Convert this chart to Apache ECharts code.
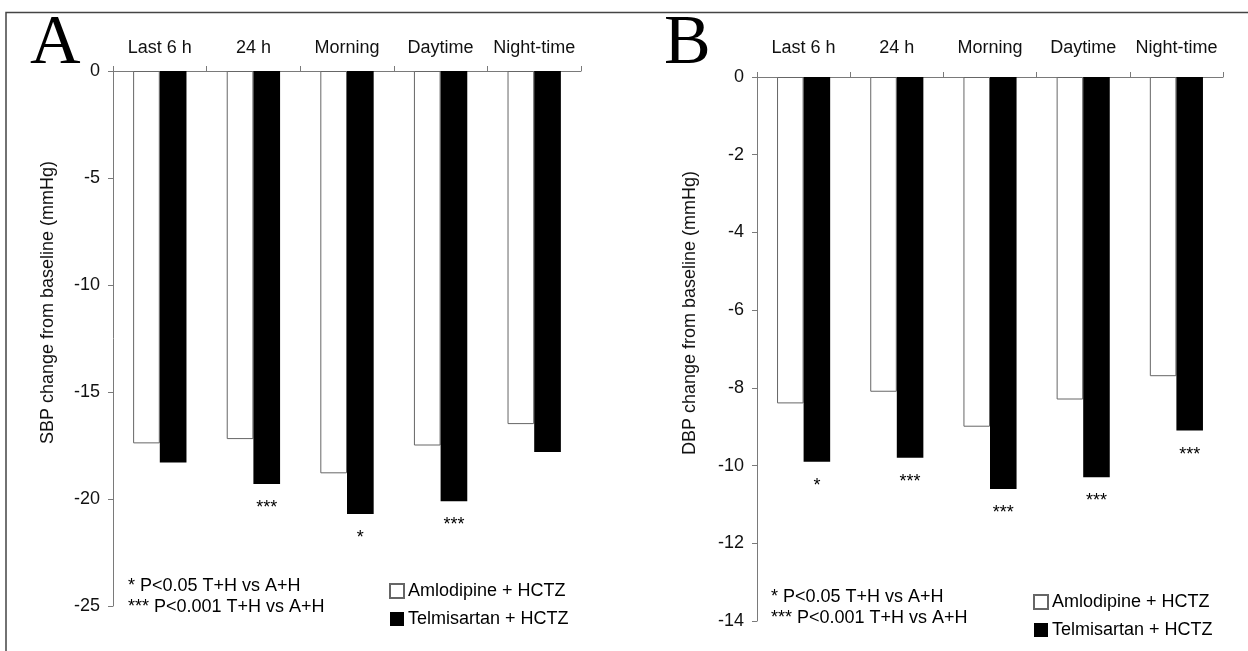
<!DOCTYPE html>
<html>
<head>
<meta charset="utf-8">
<script src="https://cdn.jsdelivr.net/npm/echarts@6/dist/echarts.min.js"></script>
<style>
  html, body { margin: 0; padding: 0; background: #fff; }
  #main { width: 1248px; height: 651px; }
</style>
</head>
<body>
<div id="main"></div>
<script>
// data
var categories = ['Last 6 h', '24 h', 'Morning', 'Daytime', 'Night-time'];
var sbpAmlo = [-17.4, -17.2, -18.8, -17.5, -16.5];
var sbpTelmi = [-18.3, -19.3, -20.7, -20.1, -17.8];
var sbpSig = ['', '***', '*', '***', ''];
var dbpAmlo = [-8.4, -8.1, -9.0, -8.3, -7.7];
var dbpTelmi = [-9.9, -9.8, -10.6, -10.3, -9.1];
var dbpSig = ['*', '***', '***', '***', '***'];
var seriesNames = ['Amlodipine + HCTZ', 'Telmisartan + HCTZ'];
var notes = ['* P<0.05 T+H vs A+H', '*** P<0.001 T+H vs A+H'];

var font = 'Liberation Sans, Arial, sans-serif';
var axisGray = '#7a7a7a';

function xAxisFor(grid, margin) {
  return {
    type: 'category',
    gridIndex: grid,
    position: 'top',
    data: categories,
    axisLine: { lineStyle: { color: axisGray, width: 1 } },
    axisTick: { show: true, interval: 0, length: 5, lineStyle: { color: axisGray } },
    axisLabel: { interval: 0, hideOverlap: false, margin: margin, color: '#111', fontSize: 18, fontFamily: font }
  };
}

function yAxisFor(grid, min, interval, name, gap) {
  return {
    type: 'value',
    gridIndex: grid,
    min: min,
    max: 0,
    interval: interval,
    name: name,
    nameLocation: 'middle',
    nameGap: gap,
    nameTextStyle: { color: '#111', fontSize: 18, fontFamily: font, padding: [0, 0, 0, 72] },
    axisLine: { show: true, lineStyle: { color: axisGray, width: 1 } },
    axisTick: { show: true, length: 5, lineStyle: { color: axisGray } },
    axisLabel: { margin: 13, color: '#111', fontSize: 18, fontFamily: font },
    splitLine: { show: false }
  };
}

function barPair(grid, white, black, sig) {
  return [{
    name: seriesNames[0],
    type: 'bar',
    xAxisIndex: grid,
    yAxisIndex: grid,
    data: white,
    barGap: '0%',
    barCategoryGap: '43%',
    itemStyle: { color: '#fff', borderColor: '#666', borderWidth: 1 }
  }, {
    name: seriesNames[1],
    type: 'bar',
    xAxisIndex: grid,
    yAxisIndex: grid,
    data: black,
    barGap: '0%',
    barCategoryGap: '43%',
    itemStyle: { color: '#000' },
    label: {
      show: true,
      position: 'bottom',
      distance: 15,
      color: '#000',
      fontSize: 18,
      fontFamily: font,
      formatter: function (p) { return sig[p.dataIndex]; }
    }
  }];
}

function legendFor(left, top) {
  return {
    orient: 'vertical',
    left: left,
    top: top,
    itemWidth: 14,
    itemHeight: 14,
    itemGap: 10,
    icon: 'rect',
    selectedMode: false,
    data: seriesNames,
    textStyle: { color: '#000', fontSize: 18, fontFamily: font, padding: [0, 0, 0, -1] }
  };
}

function notesAt(x, y) {
  return {
    type: 'text',
    left: x,
    top: y,
    style: { text: notes.join('\n'), fill: '#000', font: '18px ' + font, lineHeight: 21 }
  };
}

var myChart = echarts.init(document.getElementById('main'), null, { renderer: 'canvas' });
myChart.setOption({
  animation: false,
  backgroundColor: '#fff',
  grid: [
    { left: 113, top: 71, width: 468, height: 535 },
    { left: 757, top: 77, width: 466, height: 544 }
  ],
  xAxis: [xAxisFor(0, 14), xAxisFor(1, 20)],
  yAxis: [
    yAxisFor(0, -25, 5, 'SBP change from baseline (mmHg)', 56),
    yAxisFor(1, -14, 2, 'DBP change from baseline (mmHg)', 58)
  ],
  legend: [legendFor(384, 577), legendFor(1028, 588)],
  series: barPair(0, sbpAmlo, sbpTelmi, sbpSig).concat(barPair(1, dbpAmlo, dbpTelmi, dbpSig)),
  graphic: [
    { type: 'polyline', shape: { points: [[6, 651], [6, 12.5], [1248, 12.5]] }, style: { stroke: '#444', lineWidth: 1.5, fill: null } },
    { type: 'text', left: 30, top: 10, style: { text: 'A', fill: '#000', font: '70px Liberation Serif, Times New Roman, serif' } },
    { type: 'text', left: 664, top: 10, style: { text: 'B', fill: '#000', font: '70px Liberation Serif, Times New Roman, serif' } },
    notesAt(128, 576),
    notesAt(771, 587)
  ]
});
</script>
</body>
</html>
